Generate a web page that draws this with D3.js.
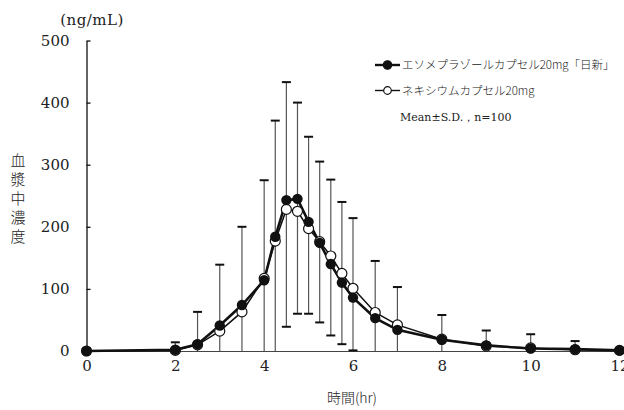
<!DOCTYPE html>
<html>
<head>
<meta charset="utf-8">
<script src="https://cdn.jsdelivr.net/npm/d3@7"></script>
<style>
  body { margin: 0; background: #fff; }
  text { fill: #222; }
</style>
</head>
<body>
<div id="chart-area"></div>
<script>
// sampling times (hr)
var times = [0, 2, 2.5, 3, 3.5, 4, 4.25, 4.5, 4.75, 5, 5.25, 5.5, 5.75, 6, 6.5, 7, 8, 9, 10, 11, 12];
// エソメプラゾールカプセル20mg「日新」 (filled)
var meanA = [0, 2, 11, 41, 74, 114, 184, 243, 245, 208, 174, 140, 110, 86, 53, 34, 18, 9, 4, 3, 1];
// ネキシウムカプセル20mg (open)
var meanB = [0, 1, 10, 32, 63, 117, 177, 228, 225, 197, 176, 153, 125, 101, 62, 42, 19, 8, 5, 2, 1];
// error bar limits (mean + S.D. / mean - S.D., clipped at 0)
var sdTop = [0, 14, 63, 139, 200, 275, 371, 433, 400, 345, 305, 276, 240, 214, 145, 103, 58, 33, 27, 16, 0];
var sdBottom = [0, 0, 0, 0, 0, 0, 0, 39, 60, 60, 46, 25, 11, 1, 0, 0, 0, 0, 0, 0, 0];

var xTicks = [0, 2, 4, 6, 8, 10, 12];
var yTicks = [0, 100, 200, 300, 400, 500];
var seriesNames = ["エソメプラゾールカプセル20mg「日新」", "ネキシウムカプセル20mg"];

var W = 624, H = 410;
var numFont = "'DejaVu Serif', 'Liberation Serif', serif";
var jpFont = "'Noto Sans CJK JP', sans-serif";

var svg = d3.select("#chart-area").append("svg")
    .attr("width", W)
    .attr("height", H);

var x = d3.scaleLinear().domain([0, 12]).range([86.5, 619.5]);
var y = d3.scaleLinear().domain([0, 500]).range([351, 40.5]);

// y axis, ticks pointing inward
var yAxis = svg.append("g")
    .attr("transform", `translate(${x(0)},0)`)
    .call(d3.axisLeft(y).tickValues(yTicks).tickSizeInner(-4).tickSizeOuter(0).tickPadding(17));
yAxis.attr("font-family", null).attr("font-size", null);
yAxis.select(".domain").attr("stroke", "#111").attr("stroke-width", 1.3);
yAxis.selectAll(".tick line").attr("stroke", "#111").attr("stroke-width", 1.3);
yAxis.selectAll("text")
    .style("font-family", numFont)
    .style("font-size", "15px")
    .attr("fill", "#333");

// x axis, no tick marks
var xAxis = svg.append("g")
    .attr("transform", `translate(0,${y(0)})`)
    .call(d3.axisBottom(x).tickValues(xTicks).tickSize(0).tickPadding(9));
xAxis.attr("font-family", null).attr("font-size", null);
xAxis.select(".domain").attr("stroke", "#444").attr("stroke-width", 1);
xAxis.selectAll("text")
    .style("font-family", numFont)
    .style("font-size", "15px")
    .attr("fill", "#333");

// axis titles
svg.append("text")
    .attr("x", 92)
    .attr("y", 25)
    .attr("text-anchor", "middle")
    .style("font-family", numFont)
    .style("font-size", "15px")
    .style("letter-spacing", "0.5px")
    .text("(ng/mL)");

var yTitle = "血漿中濃度".split("");
svg.selectAll(".ytitle")
    .data(yTitle)
    .enter().append("text")
    .attr("class", "ytitle")
    .attr("x", 18)
    .attr("y", (d, i) => 166 + i * 19)
    .attr("text-anchor", "middle")
    .style("font-family", jpFont)
    .style("font-size", "15px")
    .style("font-weight", 300)
    .text(d => d);

svg.append("text")
    .attr("x", 352)
    .attr("y", 403)
    .attr("text-anchor", "middle")
    .style("font-family", jpFont)
    .style("font-size", "14px")
    .style("font-weight", 300)
    .text("時間(hr)");

// error bars
var bars = times.map((t, i) => ({ t: t, top: sdTop[i], bottom: sdBottom[i] }))
    .filter(d => d.top > 0);

var eb = svg.append("g");
eb.selectAll(".stem")
    .data(bars)
    .enter().append("line")
    .attr("x1", d => x(d.t))
    .attr("x2", d => x(d.t))
    .attr("y1", d => y(d.top))
    .attr("y2", d => y(d.bottom))
    .attr("stroke", "#555")
    .attr("stroke-width", 1.2);

eb.selectAll(".captop")
    .data(bars)
    .enter().append("line")
    .attr("x1", d => x(d.t) - 4.5)
    .attr("x2", d => x(d.t) + 4.5)
    .attr("y1", d => y(d.top))
    .attr("y2", d => y(d.top))
    .attr("stroke", "#111")
    .attr("stroke-width", 2);

eb.selectAll(".capbot")
    .data(bars.filter(d => d.bottom > 0))
    .enter().append("line")
    .attr("x1", d => x(d.t) - 4.5)
    .attr("x2", d => x(d.t) + 4.5)
    .attr("y1", d => y(d.bottom))
    .attr("y2", d => y(d.bottom))
    .attr("stroke", "#111")
    .attr("stroke-width", 2);

// lines
var line = d3.line().x(d => x(d[0])).y(d => y(d[1]));
var ptsA = times.map((t, i) => [t, meanA[i]]);
var ptsB = times.map((t, i) => [t, meanB[i]]);

svg.append("path")
    .datum(ptsB)
    .attr("d", line)
    .attr("fill", "none")
    .attr("stroke", "#111")
    .attr("stroke-width", 1.5);

svg.append("path")
    .datum(ptsA)
    .attr("d", line)
    .attr("fill", "none")
    .attr("stroke", "#111")
    .attr("stroke-width", 2.6);

svg.selectAll(".ptB")
    .data(ptsB)
    .enter().append("circle")
    .attr("class", "ptB")
    .attr("cx", d => x(d[0]))
    .attr("cy", d => y(d[1]))
    .attr("r", 5)
    .attr("fill", "#fff")
    .attr("stroke", "#111")
    .attr("stroke-width", 1.2);

svg.selectAll(".ptA")
    .data(ptsA)
    .enter().append("circle")
    .attr("class", "ptA")
    .attr("cx", d => x(d[0]))
    .attr("cy", d => y(d[1]))
    .attr("r", 5.2)
    .attr("fill", "#111");

// legend
var legend = svg.append("g").attr("transform", "translate(375,65)");
seriesNames.forEach((name, i) => {
    var row = legend.append("g").attr("transform", `translate(0,${i * 25.5})`);
    row.append("line")
        .attr("x1", 0).attr("x2", 25)
        .attr("stroke", "#111")
        .attr("stroke-width", i === 0 ? 2.4 : 1.4);
    row.append("circle")
        .attr("cx", 12.5)
        .attr("r", i === 0 ? 4.2 : 3.8)
        .attr("fill", i === 0 ? "#111" : "#fff")
        .attr("stroke", "#111")
        .attr("stroke-width", 1.2);
    row.append("text")
        .attr("x", 27)
        .attr("y", 0)
        .attr("dy", "0.35em")
        .style("font-family", jpFont)
        .style("font-size", "11.5px")
        .style("font-weight", 300)
        .text(name);
});

legend.append("text")
    .attr("x", 25)
    .attr("y", 52)
    .attr("dy", "0.35em")
    .style("font-family", numFont)
    .style("font-size", "11px")
    .text("Mean±S.D.，n=100");
</script>
</body>
</html>
